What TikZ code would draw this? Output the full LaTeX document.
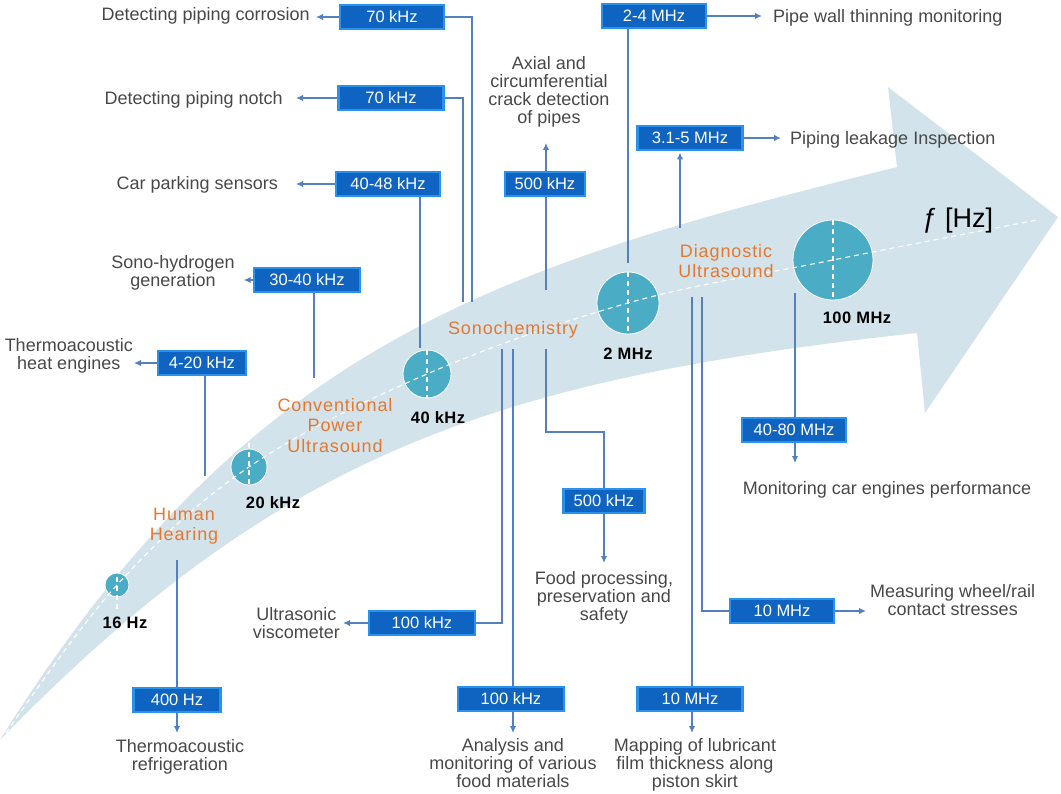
\documentclass[tikz,border=0pt]{standalone}
\usepackage{fontspec}
\setmainfont{Liberation Sans}
\newfontfamily\spacedfont[LetterSpace=5]{Liberation Sans}
\newfontfamily\widefont[LetterSpace=3]{Liberation Sans}
\usetikzlibrary{arrows.meta,calc}

\definecolor{bandcol}{RGB}{210,227,235}
\definecolor{dotcol}{RGB}{75,172,197}
\definecolor{wirecol}{RGB}{84,128,192}
\definecolor{boxfill}{RGB}{14,100,192}
\definecolor{boxrim}{RGB}{40,146,236}
\definecolor{graytxt}{RGB}{72,72,72}
\definecolor{orangetxt}{RGB}{232,119,46}

\pgfdeclarelayer{band}
\pgfdeclarelayer{wires}
\pgfsetlayers{band,wires,main}

\begin{document}
\begin{tikzpicture}[x=1pt,y=-1pt,
  freq/.style={draw=boxrim, fill=boxfill, line width=2.4pt, text=white,
    font=\fontsize{16.5}{16.5}\selectfont, minimum height=24.5pt, inner sep=0pt},
  app/.style={text=graytxt, font=\fontsize{18}{18}\selectfont, align=center, inner sep=2pt},
  bandlabel/.style={text=orangetxt, font=\spacedfont\fontsize{18}{20.5}\selectfont, align=center, inner sep=0pt},
  marklabel/.style={font=\widefont\bfseries\fontsize{16.5}{16.5}\selectfont, text=black, inner sep=0pt},
  wire/.style={draw=wirecol, line width=2.6pt},
  arrowwire/.style={wire, -{Latex[length=7pt,width=6.5pt]}},
  dot/.style={circle, fill=dotcol, draw=white, line width=0.8pt, inner sep=0pt},
  axisdash/.style={draw=white, line width=1.1pt, dash pattern=on 5pt off 4pt},
]
\useasboundingbox (0,0) rectangle (1061,794);

% ---------- the frequency band (curved arrow) ----------
\begin{pgfonlayer}{band}
\fill[bandcol] (0,740) .. controls (250,340) and (497,267) .. (897,167)
  -- (888,87) -- (1058,217) -- (925,413) -- (917,333)
  .. controls (497,379) and (280,451.6) .. (0,740) -- cycle;
\end{pgfonlayer}

% ---------- frequency marks on the band ----------
\node[dot, minimum size=24pt] (c16)  at (117,585) {};
\node[dot, minimum size=36pt] (c20k) at (249,467) {};
\node[dot, minimum size=48pt] (c40k) at (427,374) {};
\node[dot, minimum size=62pt] (c2M)  at (628,303) {};
\node[dot, minimum size=80pt] (c100M) at (833,260) {};

\draw[axisdash] plot[smooth, tension=0.6] coordinates
  {(6,733) (117,585) (249,467) (427,374) (628,303) (833,260) (1037,220)};
\draw[axisdash] (117,550) -- (117,610);
\draw[axisdash] (249,425) -- (249,485);
\draw[axisdash] (c40k.north) -- (c40k.south);
\draw[axisdash] (c2M.north) -- (c2M.south);
\draw[axisdash] (c100M.north) -- (c100M.south);

\node[marklabel] (l16)   at (125,623) {16 Hz};
\node[marklabel] (l20k)  at (273,503) {20 kHz};
\node[marklabel] (l40k)  at (438,418) {40 kHz};
\node[marklabel] (l2M)   at (628,354) {2 MHz};
\node[marklabel] (l100M) at (857,318) {100 MHz};

\node[bandlabel] (human) at (184,526) {Human\\Hearing};
\node[bandlabel] (conv)  at (335,425.5) {Conventional\\Power\\Ultrasound};
\node[bandlabel] (sono)  at (513,330) {Sonochemistry};
\node[bandlabel] (diag)  at (726,261) {Diagnostic\\Ultrasound};

\node[text=black, font=\fontsize{27}{27}\selectfont, inner sep=0pt] (axis) at (958,221) {ƒ [Hz]};

% ---------- frequency boxes ----------
\node[freq, minimum width=104pt] (b1)  at (392,17)  {70 kHz};
\node[freq, minimum width=105pt] (b2)  at (391,98)  {70 kHz};
\node[freq, minimum width=104pt] (b3)  at (388,184) {40-48 kHz};
\node[freq, minimum width=106pt] (b4)  at (307,280) {30-40 kHz};
\node[freq, minimum width=88pt]  (b5)  at (202,363) {4-20 kHz};
\node[freq, minimum width=87pt]  (b6)  at (177,700) {400 Hz};
\node[freq, minimum width=106pt] (b7)  at (422,623) {100 kHz};
\node[freq, minimum width=106pt] (b8)  at (511,699) {100 kHz};
\node[freq, minimum width=80pt]  (b9)  at (545,184) {500 kHz};
\node[freq, minimum width=81pt]  (b10) at (604,501) {500 kHz};
\node[freq, minimum width=104pt] (b11) at (654,16)  {2-4 MHz};
\node[freq, minimum width=105pt] (b12) at (690,138) {3.1-5 MHz};
\node[freq, minimum width=104pt] (b13) at (794,430) {40-80 MHz};
\node[freq, minimum width=104pt] (b14) at (782,611) {10 MHz};
\node[freq, minimum width=105pt] (b15) at (690,699) {10 MHz};

% ---------- applications ----------
\node[app, anchor=east, inner xsep=6pt]  (t1) at (316,15.5) {Detecting piping corrosion};
\node[app, anchor=east, inner xsep=13pt] (t2) at (296,99.5) {Detecting piping notch};
\node[app, anchor=east, inner xsep=18pt] (t3) at (296,185)  {Car parking sensors};
\node[app, inner sep=0pt]                (t4) at (173,273)  {Sono-hydrogen\\generation};
\node[app, anchor=east, inner xsep=1pt]  (t5) at (134,356)  {Thermoacoustic\\heat engines};
\node[app, anchor=north, inner ysep=6pt] (t6) at (180,733)  {Thermoacoustic\\refrigeration};
\node[app, anchor=east, inner xsep=3pt]  (t7) at (343,623)  {Ultrasonic\\viscometer};
\node[app, anchor=north, inner ysep=5pt] (t8) at (513,733)  {Analysis and\\monitoring of various\\food materials};
\node[app, anchor=north, inner ysep=5pt] (t9) at (695,733)  {Mapping of lubricant\\film thickness along\\piston skirt};
\node[app, anchor=north, inner ysep=8pt] (t10) at (604,563) {Food processing,\\preservation and\\safety};
\node[app, anchor=west, inner xsep=4pt]  (t11) at (866,600) {Measuring wheel/rail\\contact stresses};
\node[app, anchor=north, inner ysep=18pt] (t12) at (887,463) {Monitoring car engines performance};
\node[app, anchor=south, inner ysep=15.5pt] (t13) at (549,143) {Axial and\\circumferential\\crack detection\\of pipes};
\node[app, anchor=west, inner xsep=11pt] (t14) at (762,17.5) {Pipe wall thinning monitoring};
\node[app, anchor=west, inner xsep=9pt]  (t15) at (781,139.5) {Piping leakage Inspection};

% ---------- start points of the connectors on the band ----------
\coordinate (s1)  at (472,302);
\coordinate (s2)  at (463,302);
\coordinate (s3)  at (420,348);
\coordinate (s4)  at (314,378);
\coordinate (s5)  at (205,476);
\coordinate (s6)  at (177,560);
\coordinate (s7)  at (502,349);
\coordinate (s8)  at (513,349);
\coordinate (s9)  at (546,290);
\coordinate (s10) at (546,349);
\coordinate (s11) at (628,263);
\coordinate (s12) at (680,228);
\coordinate (s13) at (795,293);
\coordinate (s14) at (702,297);
\coordinate (s15) at (692,297);

% ---------- connectors ----------
\begin{pgfonlayer}{wires}
\draw[wire] (s1) |- (b1.east);
\draw[arrowwire] (b1.west) -- (b1.west -| t1.east);
\draw[wire] (s2) |- (b2.east);
\draw[arrowwire] (b2.west) -- (b2.west -| t2.east);
\draw[wire] (s3) -- (s3 |- b3.south);
\draw[arrowwire] (b3.west) -- (b3.west -| t3.east);
\draw[wire] (s4) -- (s4 |- b4.south);
\draw[arrowwire, shorten >=9pt] (b4.west) -- (b4.west -| t4.east);
\draw[wire] (s5) -- (s5 |- b5.south);
\draw[arrowwire] (b5.west) -- (b5.west -| t5.east);
\draw[arrowwire] (s6) -- (s6 |- t6.north);
\draw[wire] (s7) |- (b7.east);
\draw[arrowwire] (b7.west) -- (b7.west -| t7.east);
\draw[arrowwire] (s8) -- (s8 |- t8.north);
\draw[arrowwire] (s9) -- (s9 |- t13.south);
\draw[arrowwire] (s10) -- ++(0,83) -| (t10.north);
\draw[wire] (s11) -- (s11 |- b11.south);
\draw[arrowwire] (b11.east) -- (b11.east -| t14.west);
\draw[arrowwire, shorten >=1pt] (s12) -- (s12 |- b12.south);
\draw[arrowwire] (b12.east) -- (b12.east -| t15.west);
\draw[arrowwire] (s13) -- (s13 |- t12.north);
\draw[wire] (s14) |- (b14.west);
\draw[arrowwire] (b14.east) -- (b14.east -| t11.west);
\draw[arrowwire] (s15) -- (s15 |- t9.north);
\end{pgfonlayer}
\end{tikzpicture}
\end{document}
